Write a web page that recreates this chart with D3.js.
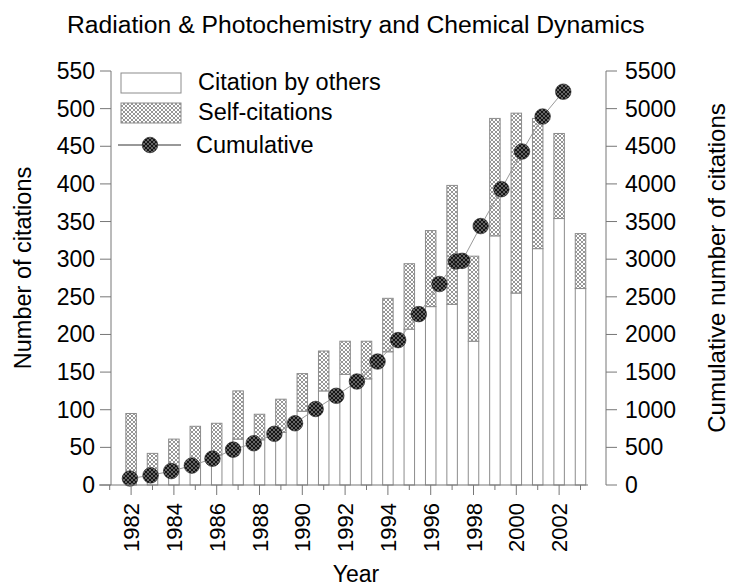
<!DOCTYPE html>
<html>
<head>
<meta charset="utf-8">
<script src="https://cdn.jsdelivr.net/npm/d3@7"></script>
<style>
  body { margin: 0; background: #fff; }
  text { font-family: "Liberation Sans", Arial, sans-serif; fill: #000; }
</style>
</head>
<body>
<div id="chart"></div>
<script>
// values
const years = [1982,1983,1984,1985,1986,1987,1988,1989,1990,1991,1992,1993,1994,1995,1996,1997,1998,1999,2000,2001,2002,2003]
const byOthers = [10,15,22,30,40,61,60,70,98,125,147,141,177,207,237,240,191,331,255,314,354,261]
const selfCites = [85,27,39,48,42,64,34,44,50,53,44,50,71,87,101,158,113,156,239,173,113,73]
const cumYears = [1982,1983,1984,1985,1986,1987,1988,1989,1990,1991,1992,1993,1994,1995,1996,1997,1997.8,1998.1,1999,2000,2001,2002,2003]
const cumValues = [86,128,185,258,350,470,555,680,820,1010,1185,1375,1640,1925,2270,2670,2970,2978,3440,3930,4430,4895,5225]
const leftTicks = d3.range(0, 551, 50)
const rightTicks = d3.range(0, 5501, 500)
const yearLabels = [1982,1984,1986,1988,1990,1992,1994,1996,1998,2000,2002]

const width = 730, height = 586
const plotLeft = 99, plotRight = 588, axisLeft = 111, axisRight = 606
const plotTop = 71, plotBottom = 485

const svg = d3.select("#chart").append("svg")
    .attr("width", width)
    .attr("height", height)

let defs = svg.append("defs")
// light cross hatch for the self-citations
let hatch = defs.append("pattern")
    .attr("id","hatch")
    .attr("patternUnits","userSpaceOnUse")
    .attr("width",4).attr("height",4)
hatch.append("rect").attr("width",4).attr("height",4).attr("fill","#fff")
hatch.append("path").attr("d","M0,0L4,4M4,0L0,4").attr("stroke","#8a8a8a").attr("stroke-width",0.9)
// dark hatch for the cumulative markers
let dark = defs.append("pattern")
    .attr("id","dark")
    .attr("patternUnits","userSpaceOnUse")
    .attr("width",4).attr("height",4)
dark.append("rect").attr("width",4).attr("height",4).attr("fill","#151515")
dark.append("path").attr("d","M0,0L4,4M4,0L0,4").attr("stroke","#7a7a7a").attr("stroke-width",0.8)

let x = d3.scaleLinear().domain([1980.5, 2003.35]).range([plotLeft, plotRight])
// the cumulative series sits on its own, slightly longer, year axis
let xCum = d3.scaleLinear().domain([1980.5, 2004.2]).range([plotLeft, plotRight])
let y = d3.scaleLinear().domain([0, 550]).range([plotBottom, plotTop])
let yCum = d3.scaleLinear().domain([0, 5500]).range([plotBottom, plotTop])
const barW = 10.5

// bars
let bars = svg.append("g")
bars.selectAll("rect.others")
    .data(years)
    .enter().append("rect")
    .attr("class","others")
    .attr("x",(d)=>x(d)-barW/2)
    .attr("width",barW)
    .attr("y",(d,i)=>y(byOthers[i]))
    .attr("height",(d,i)=>y(0)-y(byOthers[i]))
    .attr("fill","#fff")
    .attr("stroke","#8c8c8c")
    .attr("stroke-width",1)
bars.selectAll("rect.self")
    .data(years)
    .enter().append("rect")
    .attr("class","self")
    .attr("x",(d)=>x(d)-barW/2)
    .attr("width",barW)
    .attr("y",(d,i)=>y(byOthers[i]+selfCites[i]))
    .attr("height",(d,i)=>y(byOthers[i])-y(byOthers[i]+selfCites[i]))
    .attr("fill","url(#hatch)")
    .attr("stroke","#8c8c8c")
    .attr("stroke-width",1)

// cumulative line + markers
let cum = cumYears.map((d,i)=>({year:d, value:cumValues[i]}))
svg.append("path")
    .datum(cum)
    .attr("fill","none")
    .attr("stroke","#999")
    .attr("stroke-width",1)
    .attr("d", d3.line().x(d=>xCum(d.year)).y(d=>yCum(d.value)))
svg.append("g").selectAll("circle")
    .data(cum)
    .enter().append("circle")
    .attr("cx",d=>xCum(d.year))
    .attr("cy",d=>yCum(d.value))
    .attr("r",7.8)
    .attr("fill","url(#dark)")
    .attr("stroke","#222")
    .attr("stroke-width",0.6)

// axes
let axisColor = "#777"
svg.append("line").attr("x1",plotLeft).attr("x2",plotRight).attr("y1",plotBottom).attr("y2",plotBottom).attr("stroke",axisColor)
svg.append("line").attr("x1",axisLeft).attr("x2",axisLeft).attr("y1",plotTop).attr("y2",plotBottom).attr("stroke",axisColor)
svg.append("line").attr("x1",axisRight).attr("x2",axisRight).attr("y1",plotTop).attr("y2",plotBottom).attr("stroke",axisColor)

let xTicks = d3.range(1981, 2004)
svg.append("g").selectAll("line")
    .data(xTicks)
    .enter().append("line")
    .attr("x1",d=>x(d)).attr("x2",d=>x(d))
    .attr("y1",plotBottom)
    .attr("y2",d=>plotBottom + (d%2==0 ? 10 : 5))
    .attr("stroke",axisColor)

svg.append("g").selectAll("text")
    .data(yearLabels)
    .enter().append("text")
    .text(d=>d)
    .attr("transform",d=>`translate(${x(d)+8},${plotBottom+18}) rotate(-90)`)
    .style("text-anchor","end")
    .style("font-size","22px")

let leftG = svg.append("g")
leftG.selectAll("line")
    .data(leftTicks)
    .enter().append("line")
    .attr("x1",axisLeft-11).attr("x2",axisLeft)
    .attr("y1",d=>y(d)).attr("y2",d=>y(d))
    .attr("stroke",axisColor)
leftG.selectAll("text")
    .data(leftTicks)
    .enter().append("text")
    .text(d=>d)
    .attr("x",axisLeft-16)
    .attr("y",d=>y(d)+8)
    .style("text-anchor","end")
    .style("font-size","23px")

let rightG = svg.append("g")
rightG.selectAll("line")
    .data(rightTicks)
    .enter().append("line")
    .attr("x1",axisRight).attr("x2",axisRight+11)
    .attr("y1",d=>yCum(d)).attr("y2",d=>yCum(d))
    .attr("stroke",axisColor)
rightG.selectAll("text")
    .data(rightTicks)
    .enter().append("text")
    .text(d=>d)
    .attr("x",axisRight+19)
    .attr("y",d=>yCum(d)+8)
    .style("font-size","23px")

// titles
svg.append("text")
    .text("Radiation & Photochemistry and Chemical Dynamics")
    .attr("x",67).attr("y",33)
    .style("font-size","24.7px")
svg.append("text")
    .text("Year")
    .attr("x",356).attr("y",582)
    .style("text-anchor","middle")
    .style("font-size","23px")
svg.append("text")
    .text("Number of citations")
    .attr("transform","translate(31,268) rotate(-90)")
    .style("text-anchor","middle")
    .style("font-size","23.5px")
svg.append("text")
    .text("Cumulative number of citations")
    .attr("transform","translate(725,268) rotate(-90)")
    .style("text-anchor","middle")
    .style("font-size","24px")

// legend
let legend = svg.append("g")
legend.append("rect").attr("x",121).attr("y",73).attr("width",60).attr("height",20)
    .attr("fill","#fff").attr("stroke","#8c8c8c")
legend.append("rect").attr("x",121).attr("y",103).attr("width",60).attr("height",20)
    .attr("fill","url(#hatch)").attr("stroke","#8c8c8c")
legend.append("line").attr("x1",118).attr("x2",181).attr("y1",145).attr("y2",145)
    .attr("stroke","#333")
legend.append("circle").attr("cx",150).attr("cy",145).attr("r",7.8)
    .attr("fill","url(#dark)").attr("stroke","#222").attr("stroke-width",0.6)
legend.append("text").text("Citation by others").attr("x",198).attr("y",90).style("font-size","23.5px")
legend.append("text").text("Self-citations").attr("x",198).attr("y",120).style("font-size","23.5px")
legend.append("text").text("Cumulative").attr("x",196).attr("y",153).style("font-size","23.5px")
</script>
</body>
</html>
